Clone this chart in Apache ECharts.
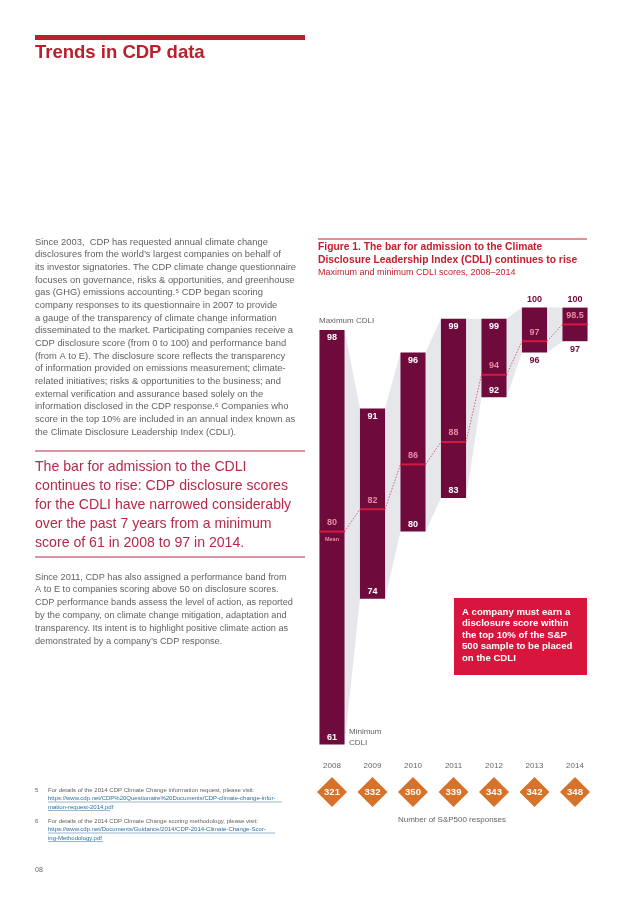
<!DOCTYPE html>
<html><head><meta charset="utf-8">
<script src="https://cdn.jsdelivr.net/npm/echarts@6/dist/echarts.min.js"></script>
<style>html,body{margin:0;padding:0;background:#fff}#c{width:638px;height:901px}</style>
</head><body><div id="c"></div>
<script>
const years = ['2008','2009','2010','2011','2012','2013','2014'];
const maxScores = [98, 91, 96, 99, 99, 100, 100];
const minScores = [61, 74, 80, 83, 92, 96, 97];
const meanScores = [80, 82, 86, 88, 94, 97, 98.5];
const responses = [321, 332, 350, 339, 343, 342, 348];

const para1 = [
 'Since 2003,  CDP has requested annual climate change',
 'disclosures from the world\u2019s largest companies on behalf of',
 'its investor signatories. The CDP climate change questionnaire',
 'focuses on governance, risks & opportunities, and greenhouse',
 'gas (GHG) emissions accounting.\u2075 CDP began scoring',
 'company responses to its questionnaire in 2007 to provide',
 'a gauge of the transparency of climate change information',
 'disseminated to the market. Participating companies receive a',
 'CDP disclosure score (from 0 to 100) and performance band',
 '(from A to E). The disclosure score reflects the transparency',
 'of information provided on emissions measurement; climate-',
 'related initiatives; risks & opportunities to the business; and',
 'external verification and assurance based solely on the',
 'information disclosed in the CDP response.\u2076 Companies who',
 'score in the top 10% are included in an annual index known as',
 'the Climate Disclosure Leadership Index (CDLI).'
];
const quote = [
 'The bar for admission to the CDLI',
 'continues to rise: CDP disclosure scores',
 'for the CDLI have narrowed considerably',
 'over the past 7 years from a minimum',
 'score of 61 in 2008 to 97 in 2014.'
];
const para2 = [
 'Since 2011, CDP has also assigned a performance band from',
 'A to E to companies scoring above 50 on disclosure scores.',
 'CDP performance bands assess the level of action, as reported',
 'by the company, on climate change mitigation, adaptation and',
 'transparency. Its intent is to highlight positive climate action as',
 'demonstrated by a company\u2019s CDP response.'
];
const boxText = [
 'A company must earn a',
 'disclosure score within',
 'the top 10% of the S&P',
 '500 sample to be placed',
 'on the CDLI'
];

const FONT = '"Liberation Sans", Arial, sans-serif';
const MAROON = '#6e0b3c';
const PINK = '#e98aa6';
const MEANRED = '#d6173f';
const BODY = '#626262';

const graphics = [];
function txt(x, y, text, size, color, weight, align) {
  graphics.push({type:'text', x:x, y:y, silent:true, style:{text:text, font:(weight||'normal')+' '+size+'px '+FONT, fill:color, textAlign:align||'left', textVerticalAlign:'middle'}});
}
function rect(x, y, w, h, color) {
  graphics.push({type:'rect', silent:true, shape:{x:x,y:y,width:w,height:h}, style:{fill:color}});
}
function hline(x1, x2, y, color, lw) {
  graphics.push({type:'line', silent:true, shape:{x1:x1,y1:y,x2:x2,y2:y}, style:{stroke:color, lineWidth:lw}});
}

// header
rect(35, 35, 270, 5, '#b8202e');
txt(35, 53, 'Trends in CDP data', 18.5, '#b8202e', 'bold');
// paragraph 1
para1.forEach((l,i)=>txt(35, 242 + i*12.67, l, 9.4, BODY));
hline(35, 305, 451, '#b52a4a', 1);
quote.forEach((l,i)=>txt(35, 467 + i*19, l, 14.1, '#b52a4a'));
hline(35, 305, 557, '#b52a4a', 1);
para2.forEach((l,i)=>txt(35, 577 + i*12.8, l, 9.2, BODY));
// footnotes
txt(35, 790, '5', 6, BODY);
txt(48, 790, 'For details of the 2014 CDP Climate Change information request, please visit:', 6, BODY);
txt(48, 798.5, 'https://www.cdp.net/CDP%20Questionaire%20Documents/CDP-climate-change-infor-', 6, '#2b6e9e');
txt(48, 807, 'mation-request-2014.pdf', 6, '#2b6e9e');
txt(35, 821, '6', 6, BODY);
txt(48, 821, 'For details of the 2014 CDP Climate Change scoring methodology, please visit:', 6, BODY);
txt(48, 829.5, 'https://www.cdp.net/Documents/Guidance/2014/CDP-2014-Climate-Change-Scor-', 6, '#2b6e9e');
txt(48, 838, 'ing-Methodology.pdf', 6, '#2b6e9e');
hline(48, 282, 802, '#2b6e9e', 0.5);
hline(48, 110, 810.5, '#2b6e9e', 0.5);
hline(48, 275, 833, '#2b6e9e', 0.5);
hline(48, 103, 841.5, '#2b6e9e', 0.5);
txt(35, 870, '08', 7, BODY);
// figure title
hline(318, 587, 239, '#c3202e', 1);
txt(318, 247, 'Figure 1. The bar for admission to the Climate', 10.3, '#c3202e', 'bold');
txt(318, 260, 'Disclosure Leadership Index (CDLI) continues to rise', 10.3, '#c3202e', 'bold');
txt(318, 272.5, 'Maximum and minimum CDLI scores, 2008\u20132014', 9, '#c3202e');
// annotations
txt(319, 321, 'Maximum CDLI', 8, BODY);
txt(349, 732, 'Minimum', 8, BODY);
txt(349, 743, 'CDLI', 8, BODY);
txt(452, 820, 'Number of S&P500 responses', 8, BODY, 'normal', 'center');
// red box
rect(454, 598, 133, 77, '#d8163d');
boxText.forEach((l,i)=>txt(462, 612 + i*11.5, l, 9.6, '#ffffff', 'bold'));

const barData = years.map((y,i)=>[i, minScores[i], maxScores[i], meanScores[i]]);
const linkData = years.slice(0, -1).map((y,i)=>[i, minScores[i], maxScores[i], minScores[i+1], maxScores[i+1], meanScores[i], meanScores[i+1]]);

function renderLinks(params, api) {
  const i = api.value(0);
  const w = api.size([1,0])[0] * 0.62;
  const a1 = api.coord([i, api.value(2)]), a2 = api.coord([i, api.value(1)]);
  const b1 = api.coord([i+1, api.value(4)]), b2 = api.coord([i+1, api.value(3)]);
  const m1 = api.coord([i, api.value(5)]), m2 = api.coord([i+1, api.value(6)]);
  const xr = a1[0] + w/2, xl = b1[0] - w/2;
  return {type:'group', children:[
    {type:'polygon', shape:{points:[[xr,a1[1]],[xl,b1[1]],[xl,b2[1]],[xr,a2[1]]]}, style:{fill:'#e6e7ea'}},
    {type:'line', shape:{x1:xr,y1:m1[1],x2:xl,y2:m2[1]}, style:{stroke:'#cf3a60', lineWidth:0.8, lineDash:[1.5,1.5]}}
  ]};
}
function renderBars(params, api) {
  const i = api.value(0);
  const mn = api.value(1), mx = api.value(2), me = api.value(3);
  const w = api.size([1,0])[0] * 0.62;
  const top = api.coord([i, mx]), bot = api.coord([i, mn]), mid = api.coord([i, me]);
  const x0 = top[0] - w/2;
  const outside = (mx - mn) < 5;
  const bfont = 'bold 9px ' + FONT;
  const ch = [
    {type:'rect', shape:{x:x0, y:top[1], width:w, height:bot[1]-top[1]}, style:{fill:MAROON}},
    {type:'rect', shape:{x:x0, y:mid[1]-1, width:w, height:2}, style:{fill:MEANRED}},
    {type:'text', style:{x:top[0], y: outside ? top[1]-8 : top[1]+8, text:String(mx), font:bfont, fill: outside ? MAROON : '#fff', textAlign:'center', textVerticalAlign:'middle'}},
    {type:'text', style:{x:top[0], y: outside ? bot[1]+8 : bot[1]-7, text:String(mn), font:bfont, fill: outside ? MAROON : '#fff', textAlign:'center', textVerticalAlign:'middle'}},
    {type:'text', style:{x:top[0], y: mid[1]-9, text:String(me), font:bfont, fill:PINK, textAlign:'center', textVerticalAlign:'middle'}}
  ];
  if (i === 0) ch.push({type:'text', style:{x:top[0], y:mid[1]+8, text:'Mean', font:'bold 5.5px '+FONT, fill:PINK, textAlign:'center', textVerticalAlign:'middle'}});
  return {type:'group', children:ch};
}

const chart = echarts.init(document.getElementById('c'));
chart.setOption({
  animation:false,
  backgroundColor:'#fff',
  grid:[
    {left:311.75, right:42.75, top:296.4, bottom:145.4},
    {left:311.75, right:42.75, top:780, height:24}
  ],
  xAxis:[
    {type:'category', data:years, gridIndex:0, axisLine:{show:false}, axisTick:{show:false}, splitLine:{show:false},
     axisLabel:{color:'#666', fontSize:8, fontFamily:FONT, margin:6}},
    {type:'category', data:years, gridIndex:1, show:false}
  ],
  yAxis:[
    {type:'value', min:60, max:101, gridIndex:0, show:false},
    {type:'value', min:0, max:1, gridIndex:1, show:false}
  ],
  graphic: graphics,
  series:[
    {type:'custom', xAxisIndex:0, yAxisIndex:0, data:linkData, renderItem:renderLinks, z:1, silent:true},
    {type:'custom', xAxisIndex:0, yAxisIndex:0, data:barData, renderItem:renderBars, z:2, silent:true},
    {type:'scatter', xAxisIndex:1, yAxisIndex:1, symbol:'diamond', symbolSize:30,
     itemStyle:{color:'#d6722a', opacity:1},
     data: responses.map((r,i)=>[years[i], 0.5, r]),
     label:{show:true, position:'inside', formatter:p=>p.value[2], color:'#fff', fontWeight:'bold', fontSize:9.5, fontFamily:FONT}}
  ]
});
</script></body></html>
